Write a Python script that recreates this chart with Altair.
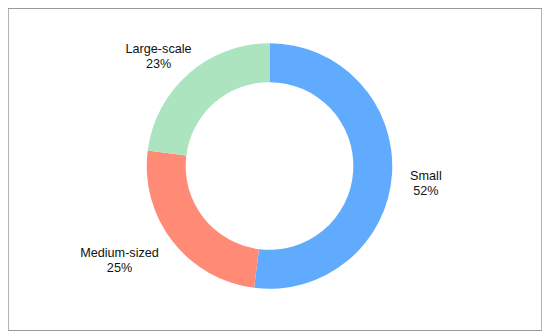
import altair as alt
import pandas as pd

categories = ["Small", "Medium-sized", "Large-scale"]
shares = [52, 25, 23]
colors = ["#61ABFF", "#FF8B77", "#ABE4BE"]

df = pd.DataFrame({"category": categories, "share": shares, "idx": list(range(len(categories)))})

CX, CY = 262, 158
R_OUT, R_IN = 123, 84

base = alt.Chart(df).encode(
    theta=alt.Theta("share:Q", stack=True),
    order=alt.Order("idx:Q"),
)

arcs = base.mark_arc(outerRadius=R_OUT, innerRadius=R_IN, stroke=None).encode(
    x=alt.value(CX),
    y=alt.value(CY),
    color=alt.Color("category:N", scale=alt.Scale(domain=categories, range=colors), legend=None),
)

# label placement tweaks per category (style only)
label_style = {
    "Small": dict(radius=156, dx=1, dy=0),
    "Medium-sized": dict(radius=156, dx=-27, dy=-8),
    "Large-scale": dict(radius=156, dx=-8, dy=0),
}

layers = [arcs]
for cat in categories:
    st = label_style[cat]
    t = base.mark_text(
        font="Liberation Sans", fontSize=12.7, color="#111111",
        align="center", baseline="middle", lineHeight=15,
        dx=st["dx"], dy=st["dy"],
    ).transform_calculate(
        label="[datum.category, datum.share + '%']"
    ).encode(
        x=alt.value(CX),
        y=alt.value(CY),
        radius=alt.value(st["radius"]),
        text=alt.Text("label:N"),
        opacity=alt.condition(alt.datum.category == cat, alt.value(1), alt.value(0)),
    )
    layers.append(t)

chart = alt.layer(*layers).properties(
    width=535, height=323,
    autosize=alt.AutoSizeParams(type="none"),
    padding=0,
    background="white",
).configure_view(stroke="#9a9a9a", strokeWidth=1.5)

chart.save("out.html", embed_options={"renderer": "svg", "actions": False})
